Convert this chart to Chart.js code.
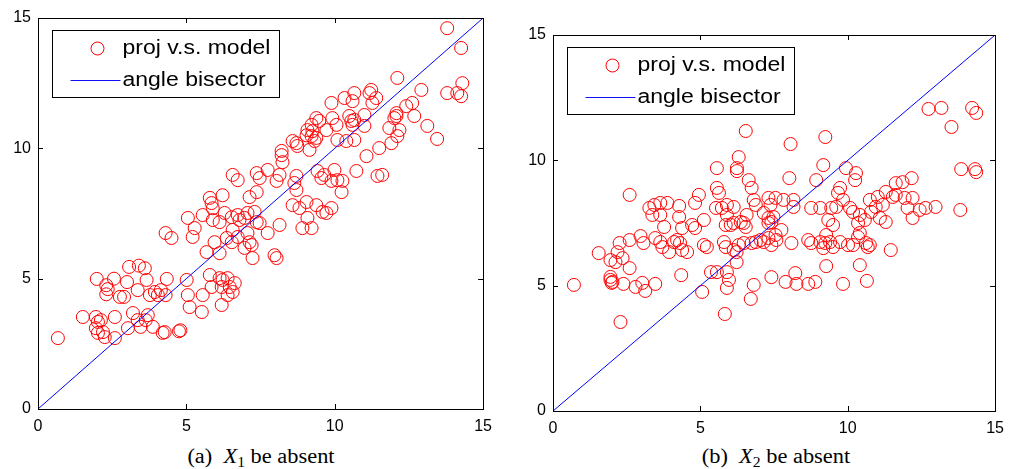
<!DOCTYPE html>
<html lang="en">
<head>
  <meta charset="UTF-8" />
  <title>proj vs model</title>
  <script src="https://cdn.jsdelivr.net/npm/chart.js"></script>
  <style>
    body { margin: 0; background: #fff; width: 1012px; height: 469px; position: relative; overflow: hidden; }
    .panel { position: absolute; }
    .caption { position: absolute; top: 445px; font-family: "Liberation Serif", "DejaVu Serif", serif; font-size: 20px; color: #000; white-space: nowrap; transform: translateX(-50%) scaleX(1.12); }
    .caption i { font-style: italic; }
    .caption sub { font-size: 14px; vertical-align: -4px; }
  </style>
</head>
<body>
  <div class="panel" style="left:0;top:0;"><canvas id="chartA" width="500" height="440"></canvas></div>
  <div class="panel" style="left:515px;top:0;"><canvas id="chartB" width="497" height="442"></canvas></div>
  <div class="caption" style="left:261px;">(a)&nbsp; <i>X</i><sub>1</sub> be absent</div>
  <div class="caption" style="left:776px;">(b)&nbsp; <i>X</i><sub>2</sub> be absent</div>

  <script>
    // axis ticks (same on both axes, both panels)
    const tickValues = [0, 5, 10, 15];
    const legendLabels = ['proj v.s. model', 'angle bisector'];
    const bisector = [[0, 0], [15, 15]];

    // (a) X1 absent: [projection, model]
    const leftPoints = [
      [0.67,2.72],[1.51,3.53],[1.98,4.99],[2.3,4.75],[2.35,4.6],[2.3,4.4],[2.56,5.0],[3.07,5.45],[3.4,5.5],[3.6,5.4],
      [3.0,4.87],[2.76,4.3],[2.9,4.3],[3.36,4.56],[3.66,4.95],[3.77,4.37],[3.94,4.49],[4.04,4.37],[4.14,4.56],[4.3,4.37],
      [4.34,4.99],[4.3,6.75],[4.5,6.56],
      [1.95,3.53],[2.02,3.34],[2.12,3.41],[1.95,3.1],[2.02,2.92],[2.19,2.95],[2.25,2.76],[2.59,3.53],[2.59,2.72],[3.03,3.1],
      [3.2,3.68],[3.36,3.41],[3.46,3.15],[3.63,3.41],[3.7,3.6],[3.87,3.15],[4.2,2.92],[4.27,2.95],[4.75,2.98],[4.8,3.02],
      [5.79,8.1],[5.85,7.9],[6.22,8.2],[5.89,7.7],[7.13,8.13],[7.37,8.32],
      [5.05,7.33],[5.28,6.94],[5.21,6.6],[5.55,7.44],
      [5.89,7.25],[6.12,7.17],[6.29,7.52],[6.53,7.36],[6.73,7.44],[6.79,7.25],[6.96,7.33],[7.06,7.52],[7.3,7.56],[7.37,7.17],[7.47,7.13],
      [6.56,6.87],[6.36,6.56],[6.53,6.4],[6.73,6.6],[7.06,6.75],[7.13,6.4],[7.2,6.29],[6.96,6.18],[7.23,5.79],[7.74,6.75],[8.14,7.06],
      [5.68,6.02],[5.95,6.4],[6.12,5.98],[7.97,5.9],[8.04,5.79],
      [8.58,7.82],[8.81,7.71],[9.05,7.94],[9.38,7.82],[9.08,7.33],[8.91,6.94],[9.22,6.94],[9.59,7.56],[9.72,7.52],[8.71,8.4],
      [5.79,5.14],[6.12,5.02],[6.22,4.95],[6.39,5.02],[6.63,4.83],[6.19,4.68],[6.46,4.68],[6.56,4.49],[5.85,4.68],[5.01,4.95],
      [5.05,4.37],[5.55,4.37],[5.11,3.91],[5.52,3.72],[6.19,3.99],[6.39,4.37],
      [10.23,8.32],[9.89,7.71],
      [9.38,11.16],[9.48,11.05],[9.22,10.9],[9.08,10.7],[9.25,10.66],[9.05,10.5],[9.22,10.47],[9.38,10.4],[9.32,10.28],[9.15,9.94],
      [8.71,10.2],[8.58,10.28],[8.74,10.09],[8.21,9.9],[8.24,9.47],[8.21,9.74],
      [6.56,8.98],[6.73,8.78],[7.37,9.05],[7.47,8.86],[7.74,9.17],[8.14,8.98],[8.04,8.75],[8.71,8.94],[8.64,8.67],[9.42,9.13],[9.55,8.86],
      [13.79,14.61],[14.26,13.85],[12.11,12.7],[12.92,12.24],[13.79,12.12],[14.13,12.12],[14.3,12.5],[14.26,12.0],
      [9.89,11.74],[10.33,11.93],[10.6,11.81],[10.66,12.12],[11.23,12.24],[11.17,12.12],[11.4,11.93],[11.27,11.74],
      [9.92,11.16],[10.06,10.9],[10.49,11.24],[10.56,11.05],[10.66,11.09],[10.6,10.9],[11.0,11.28],[11.0,10.86],[9.72,10.7],
      [10.09,10.32],[10.39,10.28],[10.66,10.32],[11.07,9.7],[11.5,10.01],[11.84,10.78],[11.91,10.2],[12.08,11.35],[12.08,11.24],[12.01,11.16],
      [12.18,10.7],[12.11,10.47],[12.41,11.62],[12.61,11.74],[12.68,11.24],[13.12,10.86],[13.45,10.36],
      [9.99,9.17],[10.73,9.13],[11.44,8.94],[11.6,8.98],[9.65,8.98],[10.09,8.78],[10.26,8.75],[9.89,8.75]
    ];

    // (b) X2 absent: [projection, model]
    const rightPoints = [
      [2.6,8.62],[3.27,8.1],[3.44,8.22],[3.64,8.3],[3.88,8.3],[4.28,8.18],[4.82,8.3],[4.95,8.62],
      [6.54,11.17],[8.06,10.65],[9.24,10.93],[6.3,10.13],[6.24,9.69],[6.24,9.57],[5.56,9.69],[9.17,9.81],[8.02,9.29],[8.93,9.21],
      [6.64,9.21],[6.74,8.9],[5.56,8.9],[5.63,8.7],[9.74,8.9],[9.67,8.7],
      [6.81,8.42],[6.88,8.22],[7.31,8.5],[7.55,8.5],[7.82,8.42],[8.16,8.42],[7.38,8.22],[8.16,8.14],[8.76,8.1],[9.07,8.1],
      [9.44,8.1],[9.61,8.14],[9.84,8.42],[5.9,8.22],[6.13,8.14],[5.73,8.1],[5.53,8.1],
      [12.74,12.05],[13.18,12.09],[14.22,12.09],[14.36,11.89],[13.52,11.33],[9.94,9.69],[10.28,9.49],[10.25,9.21],
      [13.85,9.65],[14.32,9.65],[14.36,9.53],[11.63,9.09],[11.86,9.13],[12.17,9.29],
      [10.75,8.42],[11.02,8.54],[11.29,8.74],[11.53,8.54],[11.63,8.62],[11.93,8.5],[12.2,8.5],[12.98,8.14],[12.64,8.1],
      [12.03,8.1],[12.44,8.02],[11.19,8.22],[10.95,8.14],[10.79,7.94],[13.82,8.02],[10.08,8.1],[10.18,7.94],
      [0.71,5.03],[2.29,3.55],[1.55,6.3],[1.95,6.02],[2.19,6.34],[2.26,6.7],[2.12,5.94],[2.36,6.1],[2.6,5.7],
      [1.95,5.35],[1.95,5.23],[1.99,5.11],[2.02,5.15],[2.39,5.07],[2.8,4.95],[3.03,5.11],[3.13,4.79],[3.47,5.07],
      [2.6,6.82],[2.97,6.98],[3.07,6.7],[3.47,6.9],[3.64,6.74],[3.71,6.54],[3.94,6.34],[4.11,6.74],[4.21,6.82],
      [4.38,6.42],[4.55,6.34],[4.31,6.7],[4.35,5.42],
      [3.37,7.82],[3.64,7.82],[3.77,7.34],[4.28,7.74],[4.38,7.3],[4.72,7.42],[4.82,7.3],
      [5.12,7.62],[5.9,7.82],[6.13,7.5],[5.86,7.42],[6.03,7.42],[6.37,7.54],[6.47,7.5],[6.57,7.82],[6.54,7.34],
      [7.15,7.9],[7.31,7.7],[7.48,7.74],[7.41,7.54],[7.31,7.5],
      [5.12,6.62],[5.22,6.54],[5.8,6.74],[5.86,6.54],[6.13,6.42],[6.23,6.34],[6.3,6.62],[6.47,6.7],[6.74,6.7],[6.88,6.74],
      [7.04,6.82],[7.15,6.74],[7.31,6.9],[7.41,6.62],[7.55,7.02],[7.58,6.82],[7.75,7.22],[8.09,6.7],[8.66,6.82],[8.76,6.7],
      [9.07,6.74],[9.24,6.7],[9.4,6.74],[9.5,6.54],[9.17,6.5],[9.74,6.74],[10.01,6.62],[9.27,7.02],[9.5,7.42],[9.34,7.62],
      [6.23,5.94],[5.9,5.54],[5.97,5.23],[5.36,5.54],[5.56,5.54],[5.06,4.75],[5.9,4.91],[6.81,5.03],[6.71,4.47],[5.83,3.87],
      [7.41,5.34],[7.89,5.15],[8.22,5.5],[8.26,5.07],[8.66,5.07],[8.9,5.15],[9.27,5.78],[9.84,5.07],
      [10.41,7.82],[10.58,7.62],[11.09,7.7],[11.29,7.54],[12.2,7.7],[10.35,7.5],[10.41,7.1],[10.35,6.94],[10.18,6.62],
      [10.62,6.7],[10.68,6.54],[10.75,6.62],[11.46,6.42],[10.41,5.82],[10.65,5.19]
    ];

    const toXY = arr => arr.map(p => ({ x: p[0], y: p[1] }));

    // MATLAB style box, inward ticks on all four sides, legend inside
    const matlabBox = {
      id: 'matlabBox',
      afterDraw(chart) {
        const ctx = chart.ctx;
        const a = chart.chartArea;
        const xs = chart.scales.x, ys = chart.scales.y;
        ctx.save();
        ctx.strokeStyle = '#000';
        ctx.lineWidth = 1;
        ctx.strokeRect(Math.round(a.left) + 0.5, Math.round(a.top) + 0.5,
          Math.round(a.right - a.left), Math.round(a.bottom - a.top));
        ctx.beginPath();
        tickValues.forEach(v => {
          const px = Math.round(xs.getPixelForValue(v)) + 0.5;
          ctx.moveTo(px, a.bottom); ctx.lineTo(px, a.bottom - 5);
          ctx.moveTo(px, a.top); ctx.lineTo(px, a.top + 5);
          const py = Math.round(ys.getPixelForValue(v)) + 0.5;
          ctx.moveTo(a.left, py); ctx.lineTo(a.left + 5, py);
          ctx.moveTo(a.right, py); ctx.lineTo(a.right - 5, py);
        });
        ctx.stroke();

        // legend
        const bx = Math.round(a.left + 14) + 0.5, by = Math.round(a.top + 12) + 0.5;
        const bw = 227, bh = 67;
        ctx.fillStyle = '#fff';
        ctx.fillRect(bx, by, bw, bh);
        ctx.strokeRect(bx, by, bw, bh);
        ctx.strokeStyle = '#ff0000';
        ctx.beginPath();
        ctx.arc(bx + 45, by + 18, 6.5, 0, Math.PI * 2);
        ctx.stroke();
        ctx.strokeStyle = '#1010ff';
        ctx.beginPath();
        ctx.moveTo(bx + 18, by + 50); ctx.lineTo(bx + 68, by + 50);
        ctx.stroke();
        ctx.fillStyle = '#000';
        ctx.font = '20px "Liberation Sans", Arial, sans-serif';
        ctx.textBaseline = 'middle';
        ctx.translate(bx + 70, 0);
        ctx.scale(1.15, 1);
        ctx.fillText(legendLabels[0], 0, by + 18);
        ctx.fillText(legendLabels[1], 0, by + 50);
        ctx.restore();
      }
    };

    function makeChart(id, points, padTop, padRight) {
      const ctx = document.getElementById(id).getContext('2d');
      return new Chart(ctx, {
        type: 'scatter',
        data: {
          datasets: [{
            type: 'line',
            label: legendLabels[1],
            data: toXY(bisector),
            borderColor: '#0000ff',
            borderWidth: 1,
            pointRadius: 0,
            fill: false,
            order: 0
          }, {
            label: legendLabels[0],
            data: toXY(points),
            pointStyle: 'circle',
            pointRadius: 6.5,
            pointBorderWidth: 1,
            borderColor: '#ff0000',
            backgroundColor: 'rgba(0,0,0,0)',
            order: 1
          }]
        },
        options: {
          responsive: false,
          animation: false,
          layout: { padding: { top: padTop, right: padRight, left: 0, bottom: 0 } },
          plugins: { legend: { display: false }, tooltip: { enabled: false } },
          scales: {
            x: {
              type: 'linear', min: 0, max: 15,
              afterBuildTicks: s => { s.ticks = tickValues.map(v => ({ value: v })); },
              afterFit: s => { s.height = 31; },
              grid: { display: false, drawTicks: false },
              border: { display: false },
              ticks: { color: '#000', padding: 8, font: { family: '"Liberation Sans", Arial, sans-serif', size: 16 } }
            },
            y: {
              type: 'linear', min: 0, max: 15,
              afterBuildTicks: s => { s.ticks = tickValues.map(v => ({ value: v })); },
              afterFit: s => { s.width = 38; },
              grid: { display: false, drawTicks: false },
              border: { display: false },
              ticks: { color: '#000', padding: 7, font: { family: '"Liberation Sans", Arial, sans-serif', size: 16 } }
            }
          }
        },
        plugins: [matlabBox]
      });
    }

    makeChart('chartA', leftPoints, 18, 16);
    makeChart('chartB', rightPoints, 35, 13);
  </script>
</body>
</html>
